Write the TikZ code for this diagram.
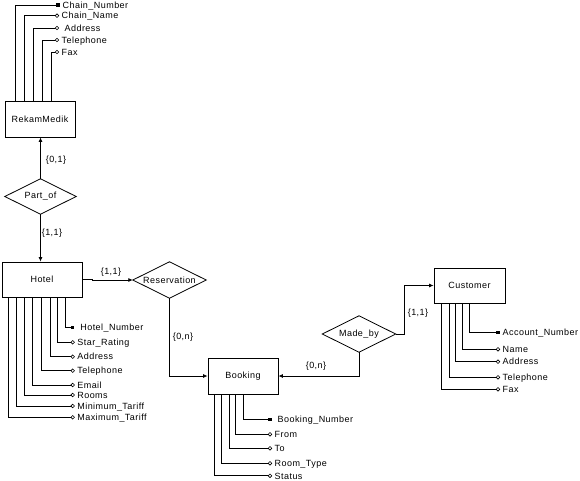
\documentclass[tikz,border=0pt]{standalone}
\usepackage{fontspec}
\setmainfont{Liberation Sans}[LetterSpace=5]
\usetikzlibrary{arrows.meta}
\tikzset{
  txt/.style={font=\fontsize{9}{10}\selectfont},
  ent/.style={draw, rectangle, line width=0.8pt, inner sep=0pt, txt},
  relbox/.style={inner sep=0pt, minimum width=72pt, minimum height=36pt, txt},
  lbl/.style={inner sep=0pt, txt},
  attrtxt/.style={anchor=west, inner sep=0pt, text height=6.4pt, text depth=0pt, txt},
  conn/.style={line width=0.8pt},
  arr/.style={conn, -{Latex[length=4.5pt,width=4pt]}},
}
\newcommand\attrib[8]{%
  \node[attrtxt] (#1) at (#6+4.5,#5) {#7};
  \coordinate (#1m) at (#6,#5);
  \draw[conn] (#4,0 |- #2.#3) |- (#1m);
  \ifnum#8=1
    \fill (#1m) +(-1.6,-1.6) rectangle +(1.6,1.6);
  \else
    \draw[line width=0.6pt, fill=white] (#1m) circle (1.8pt);
  \fi
}
\begin{document}
\begin{tikzpicture}[x=1pt,y=-1pt]
\useasboundingbox (0,0) rectangle (580,480);
% entities
\node[ent, minimum width=70pt, minimum height=36pt] (rm) at (40,119) {RekamMedik};
\node[ent, minimum width=80pt, minimum height=35pt] (hotel) at (42,279.5) {Hotel};
\node[ent, minimum width=70pt, minimum height=36pt] (book) at (243,376) {Booking};
\node[ent, minimum width=71pt, minimum height=35pt] (cust) at (469.5,285.5) {Customer};
% relationships
\node[relbox, minimum width=71pt, minimum height=35pt] (po) at (40.5,196.5) {Part\_of};
\node[relbox, minimum width=73pt, minimum height=36pt] (res) at (169.5,280) {Reservation};
\node[relbox, minimum width=73pt, minimum height=36pt] (made) at (359,334) {Made\_by};
\foreach \r in {po,res,made}
  \draw[conn] (\r.north) -- (\r.east) -- (\r.south) -- (\r.west) -- cycle;
% connectors
\draw[arr] (po.north) -- (po.north |- rm.south);
\draw[arr] (po.south) -- (po.south |- hotel.north);
\draw[arr] (hotel.east) -- ++(10,0) |- (res.west);
\draw[arr] (res.south) |- (book.west);
\draw[arr] (made.south) |- (book.east);
\draw[arr] (made.east) -- ++(9,0) |- (cust.west);
% cardinality labels
\node[lbl] (c1) at (56,160) {\{0,1\}};
\node[lbl] (c2) at (52,233) {\{1,1\}};
\node[lbl] (c3) at (111,272) {\{1,1\}};
\node[lbl] (c4) at (183,337) {\{0,n\}};
\node[lbl] (c5) at (316,366) {\{0,n\}};
\node[lbl] (c6) at (418,313) {\{1,1\}};
% RekamMedik attributes
\attrib{r1}{rm}{north}{15.7}{4.9}{58}{Chain\_Number}{1}
\attrib{r2}{rm}{north}{24.3}{15.7}{57}{Chain\_Name}{0}
\attrib{r3}{rm}{north}{33.3}{28}{57}{\ Address}{0}
\attrib{r4}{rm}{north}{42.3}{40}{57}{Telephone}{0}
\attrib{r5}{rm}{north}{51.7}{52}{57}{Fax}{0}
% Hotel attributes
\attrib{h1}{hotel}{south}{65.7}{327.3}{72.7}{\ Hotel\_Number}{1}
\attrib{h2}{hotel}{south}{57.3}{342.3}{72.7}{Star\_Rating}{0}
\attrib{h3}{hotel}{south}{50}{356.7}{72.7}{Address}{0}
\attrib{h4}{hotel}{south}{41.7}{370.7}{72.7}{Telephone}{0}
\attrib{h5}{hotel}{south}{32.3}{385}{72.7}{Email}{0}
\attrib{h6}{hotel}{south}{24}{395}{72.7}{Rooms}{0}
\attrib{h7}{hotel}{south}{16}{406}{72.7}{Minimum\_Tariff}{0}
\attrib{h8}{hotel}{south}{8.3}{417.3}{72.7}{Maximum\_Tariff}{0}
% Booking attributes
\attrib{b1}{book}{south}{243.3}{419.3}{270}{\ Booking\_Number}{1}
\attrib{b2}{book}{south}{235.7}{434.3}{270}{From}{0}
\attrib{b3}{book}{south}{229.3}{448.3}{270}{To}{0}
\attrib{b4}{book}{south}{221.7}{463.3}{270}{Room\_Type}{0}
\attrib{b5}{book}{south}{214}{475.8}{270}{Status}{0}
% Customer attributes
\attrib{k1}{cust}{south}{469.3}{332.7}{498}{Account\_Number}{1}
\attrib{k2}{cust}{south}{462.7}{349.3}{498}{Name}{0}
\attrib{k3}{cust}{south}{455.7}{361.7}{498}{Address}{0}
\attrib{k4}{cust}{south}{449}{377.3}{498}{Telephone}{0}
\attrib{k5}{cust}{south}{441.7}{389.3}{498}{Fax}{0}
\end{tikzpicture}
\end{document}
